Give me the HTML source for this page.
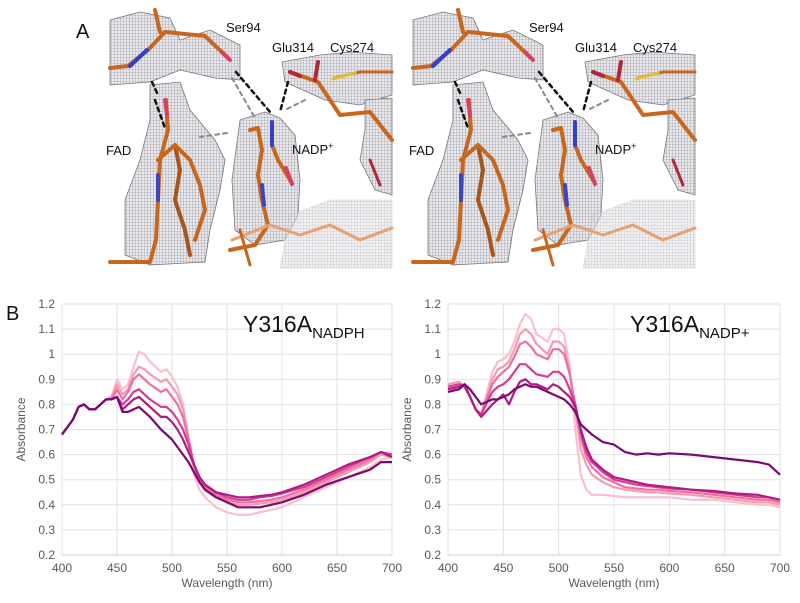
<!DOCTYPE html>
<html><head><meta charset="utf-8">
<style>
body{margin:0;background:#fff;}
svg{display:block;font-family:"Liberation Sans",sans-serif;}
</style></head>
<body>
<svg width="800" height="603" viewBox="0 0 800 603">
<defs>
<pattern id="mesh" width="3" height="3" patternUnits="userSpaceOnUse">
<rect width="3" height="3" fill="#e8e8ec"/>
<path d="M0 0H3M0 0V3" stroke="#85858f" stroke-width="0.6"/>
</pattern>
<g id="struct">
<path d="M110 20 L140 12 L170 18 L180 40 L210 30 L240 45 L240 80 L215 78 L180 70 L150 82 L110 85Z" fill="url(#mesh)" stroke="#777" stroke-width="0.8"/>
<path d="M150 85 L180 82 L190 110 L215 140 L225 160 L220 190 L210 230 L205 262 L150 265 L125 255 L125 200 L140 160 L150 120Z" fill="url(#mesh)" stroke="#777" stroke-width="0.8"/>
<path d="M240 120 L265 112 L280 118 L295 135 L300 180 L298 215 L285 240 L255 245 L235 230 L232 180Z" fill="url(#mesh)" stroke="#777" stroke-width="0.8"/>
<path d="M282 62 L320 55 L350 52 L392 55 L392 95 L360 105 L325 100 L285 82Z" fill="url(#mesh)" stroke="#777" stroke-width="0.8"/>
<path d="M365 100 L392 98 L392 195 L375 190 L360 160 L365 130Z" fill="url(#mesh)" stroke="#777" stroke-width="0.8"/>
<path d="M290 215 L330 200 L392 200 L392 268 L280 268Z" fill="url(#mesh)" stroke="#bbb" stroke-width="0.6" opacity="0.6"/>
<g fill="none" stroke-linecap="round" stroke-linejoin="round">
<polyline points="110,68 128,66 148,50 165,32 205,36 228,58" stroke="#c8661e" stroke-width="4"/>
<polyline points="160,32 155,10" stroke="#c8661e" stroke-width="4"/>
<polyline points="130,66 147,50" stroke="#3540c8" stroke-width="4"/>
<polyline points="222,52 230,60" stroke="#d84060" stroke-width="4"/>
<polyline points="166,100 168,130 160,160 158,200 156,240 150,262 110,262" stroke="#c8661e" stroke-width="4"/>
<polyline points="175,145 180,170 175,200 185,230 190,255" stroke="#a8541a" stroke-width="4"/>
<polyline points="158,160 175,145 190,160 200,185 205,210 195,240" stroke="#c8661e" stroke-width="4"/>
<polyline points="158,175 158,200" stroke="#3d44c0" stroke-width="4"/>
<polyline points="165,100 167,115" stroke="#d84060" stroke-width="4"/>
<polyline points="250,130 258,128 262,150 258,175 262,200 268,225 255,245 230,250" stroke="#c8661e" stroke-width="4"/>
<polyline points="272,125 272,145 278,160 290,180" stroke="#c8661e" stroke-width="4"/>
<polyline points="272,122 272,145" stroke="#3540c8" stroke-width="4"/>
<polyline points="262,185 264,205" stroke="#3d44c0" stroke-width="4"/>
<polyline points="286,168 292,184" stroke="#d84060" stroke-width="4"/>
<polyline points="290,72 318,82 340,115 370,112 392,140" stroke="#c8661e" stroke-width="4"/>
<polyline points="335,78 360,72 392,72" stroke="#c8661e" stroke-width="3"/>
<polyline points="333,79 355,73" stroke="#e0c030" stroke-width="3"/>
<polyline points="315,80 318,62" stroke="#b02838" stroke-width="4"/>
<polyline points="290,72 300,76" stroke="#b02838" stroke-width="4"/>
<polyline points="232,240 270,225 300,235 330,225 360,240 392,228" stroke="#e8a070" stroke-width="3"/>
<polyline points="240,230 250,265" stroke="#c8661e" stroke-width="3"/>
<polyline points="370,160 380,185" stroke="#b02838" stroke-width="3"/>
<polyline points="236,72 270,112" stroke="#111" stroke-width="2.5" stroke-dasharray="4 4"/>
<polyline points="232,78 255,118" stroke="#888" stroke-width="2" stroke-dasharray="4 4"/>
<polyline points="288,82 280,112" stroke="#111" stroke-width="2.5" stroke-dasharray="4 4"/>
<polyline points="305,100 285,110" stroke="#888" stroke-width="2" stroke-dasharray="4 4"/>
<polyline points="227,133 200,137" stroke="#888" stroke-width="2" stroke-dasharray="4 4"/>
<polyline points="152,82 158,95" stroke="#111" stroke-width="2.5" stroke-dasharray="4 4"/>
<polyline points="155,100 165,128" stroke="#111" stroke-width="2.5" stroke-dasharray="4 4"/>
</g>
</g>
</defs>
<g><use href="#struct"/></g>
<g><use href="#struct" x="303"/></g>
<g font-size="13" fill="#111">
<text x="76" y="38" font-size="20">A</text>
<text x="226" y="32">Ser94</text>
<text x="272" y="52">Glu314</text>
<text x="330" y="52">Cys274</text>
<text x="106" y="155">FAD</text>
<text x="292" y="154">NADP<tspan font-size="9" dy="-5">+</tspan></text>
<text x="529" y="32">Ser94</text>
<text x="575" y="52">Glu314</text>
<text x="633" y="52">Cys274</text>
<text x="409" y="155">FAD</text>
<text x="595" y="154">NADP<tspan font-size="9" dy="-5">+</tspan></text>
<text x="6" y="320" font-size="20">B</text>
</g>
<g id="chart1"></g>
<g id="chart2"></g>
</svg>
<script>
const wavelengths=[400,410,415,420,425,430,440,445,450,455,460,465,470,475,480,490,495,500,505,510,515,520,525,530,540,550,560,570,580,590,600,620,640,660,680,690,700];
const xTicks=[400,450,500,550,600,650,700];
const yTicks=[0.2,0.3,0.4,0.5,0.6,0.7,0.8,0.9,1,1.1,1.2];
const seriesColors=["#f8c0c8","#f59ab0","#ee6fa0","#d63c95","#b01a85","#7a0a70"];
const nadphStart=[0.68,0.74,0.79,0.80,0.78,0.78,0.82];
const nadph1=[0.83,0.90,0.86,0.88,0.95,1.01,1.00,0.97,0.93,0.94,0.91,0.87,0.80,0.66,0.52,0.46,0.43,0.39,0.37,0.36,0.36,0.37,0.38,0.39,0.43,0.47,0.51,0.55,0.58,0.59];
const nadph2=[0.83,0.88,0.84,0.86,0.92,0.95,0.94,0.92,0.89,0.90,0.87,0.84,0.78,0.67,0.55,0.49,0.46,0.43,0.41,0.40,0.40,0.405,0.41,0.42,0.45,0.49,0.53,0.57,0.60,0.59];
const nadph3=[0.82,0.86,0.82,0.85,0.90,0.92,0.90,0.88,0.85,0.86,0.83,0.80,0.75,0.66,0.56,0.50,0.47,0.44,0.42,0.41,0.41,0.415,0.42,0.43,0.46,0.50,0.54,0.58,0.61,0.60];
const nadph4=[0.82,0.83,0.80,0.82,0.85,0.86,0.84,0.82,0.79,0.79,0.77,0.74,0.70,0.64,0.56,0.51,0.48,0.45,0.43,0.42,0.42,0.43,0.435,0.445,0.47,0.51,0.55,0.59,0.61,0.60];
const nadph5=[0.82,0.83,0.78,0.80,0.82,0.83,0.81,0.79,0.75,0.75,0.73,0.70,0.66,0.61,0.56,0.51,0.48,0.45,0.44,0.43,0.43,0.435,0.44,0.45,0.48,0.52,0.56,0.59,0.61,0.59];
const nadph6=[0.82,0.83,0.77,0.77,0.78,0.79,0.77,0.75,0.70,0.68,0.66,0.63,0.60,0.57,0.53,0.49,0.46,0.43,0.41,0.39,0.39,0.39,0.40,0.41,0.44,0.48,0.51,0.54,0.57,0.57];
const nadp1=[0.88,0.89,0.87,0.83,0.78,0.76,0.93,0.97,0.98,1.00,1.05,1.12,1.16,1.14,1.08,1.05,1.10,1.10,1.08,0.95,0.70,0.52,0.46,0.44,0.44,0.435,0.43,0.43,0.43,0.43,0.43,0.42,0.42,0.41,0.40,0.40,0.39];
const nadp2=[0.88,0.89,0.87,0.83,0.78,0.76,0.90,0.94,0.95,0.97,1.02,1.08,1.10,1.08,1.04,1.00,1.05,1.05,1.03,0.93,0.78,0.62,0.56,0.52,0.49,0.47,0.46,0.455,0.45,0.45,0.445,0.44,0.43,0.42,0.41,0.41,0.40];
const nadp3=[0.87,0.88,0.87,0.83,0.78,0.76,0.88,0.91,0.93,0.95,0.99,1.04,1.05,1.03,1.00,0.98,1.02,1.02,1.00,0.92,0.80,0.67,0.59,0.55,0.51,0.49,0.47,0.465,0.46,0.46,0.455,0.45,0.44,0.43,0.42,0.42,0.41];
const nadp4=[0.87,0.88,0.87,0.83,0.78,0.76,0.85,0.87,0.88,0.90,0.93,0.96,0.96,0.94,0.92,0.91,0.93,0.93,0.91,0.86,0.80,0.69,0.61,0.57,0.53,0.50,0.49,0.48,0.475,0.47,0.465,0.46,0.45,0.44,0.43,0.43,0.42];
const nadp5=[0.86,0.87,0.88,0.83,0.78,0.75,0.80,0.82,0.84,0.80,0.85,0.89,0.90,0.88,0.88,0.86,0.88,0.87,0.85,0.83,0.79,0.70,0.63,0.58,0.54,0.51,0.50,0.49,0.48,0.475,0.47,0.46,0.455,0.445,0.44,0.43,0.42];
const nadp6=[0.85,0.86,0.88,0.86,0.83,0.80,0.82,0.82,0.83,0.84,0.86,0.87,0.88,0.87,0.87,0.85,0.84,0.83,0.82,0.80,0.77,0.72,0.70,0.68,0.65,0.64,0.61,0.60,0.605,0.60,0.605,0.60,0.59,0.58,0.57,0.56,0.52];

const NS="http://www.w3.org/2000/svg";
function mk(tag,attrs,parent){const e=document.createElementNS(NS,tag);for(const k in attrs)e.setAttribute(k,attrs[k]);parent.appendChild(e);return e;}
function drawChart(g,x0,x1,series,title,sub,titleX){
  const y0=555,y1=304;
  const sx=v=>x0+(v-400)/300*(x1-x0);
  const sy=v=>y0-(v-0.2)/1.0*(y0-y1);
  yTicks.forEach(t=>{
    const l=mk('line',{x1:x0,x2:x1,y1:sy(t),y2:sy(t),stroke:'#e2e2e2','stroke-width':1},g);
    
    
    const tx=mk('text',{x:x0-7,y:sy(t)+4,'text-anchor':'end','font-size':12,fill:'#595959'},g);
    tx.textContent=String(t);
    
    
  });
  xTicks.forEach(t=>{
    const l=mk('line',{x1:sx(t),x2:sx(t),y1:y1,y2:y0,stroke:'#e2e2e2','stroke-width':1},g);
    
    
    const tx=mk('text',{x:sx(t),y:y0+17,'text-anchor':'middle','font-size':12,fill:'#595959'},g);
    tx.textContent=String(t);
    
    
  });
  const ax=mk('line',{x1:x0,x2:x1,y1:y0,y2:y0,stroke:'#cfcfcf','stroke-width':1},g);
  
  
  series.forEach((vals,i)=>{
    const pts=vals.map((v,j)=>sx(wavelengths[j]).toFixed(1)+','+sy(v).toFixed(1)).join(' ');
    const p=mk('polyline',{points:pts,fill:'none',stroke:seriesColors[i],'stroke-width':2.2,'stroke-linejoin':'round'},g);
    
    
  });
  const xt=mk('text',{x:(x0+x1)/2,y:y0+32,'text-anchor':'middle','font-size':12,fill:'#595959'},g);
  xt.textContent='Wavelength (nm)';
  
  
  const cy=(y0+y1)/2;
  const yt=mk('text',{x:x0-37,y:cy,'text-anchor':'middle','font-size':12,fill:'#595959',transform:`rotate(-90 ${x0-37} ${cy})`},g);
  yt.textContent='Absorbance';
  
  
  const tt=mk('text',{x:titleX,y:332,'font-size':23,fill:'#111'},g);
  tt.textContent=title;
  const ts=mk('tspan',{'font-size':15,dy:6},tt);
  ts.textContent=sub;
  
  
}
const full1=[nadph1,nadph2,nadph3,nadph4,nadph5,nadph6].map(s=>nadphStart.concat(s));
drawChart(document.getElementById('chart1'),62,392,full1,'Y316A','NADPH',243);
drawChart(document.getElementById('chart2'),448,780,[nadp1,nadp2,nadp3,nadp4,nadp5,nadp6],'Y316A','NADP+',630);
</script>
</body></html>
